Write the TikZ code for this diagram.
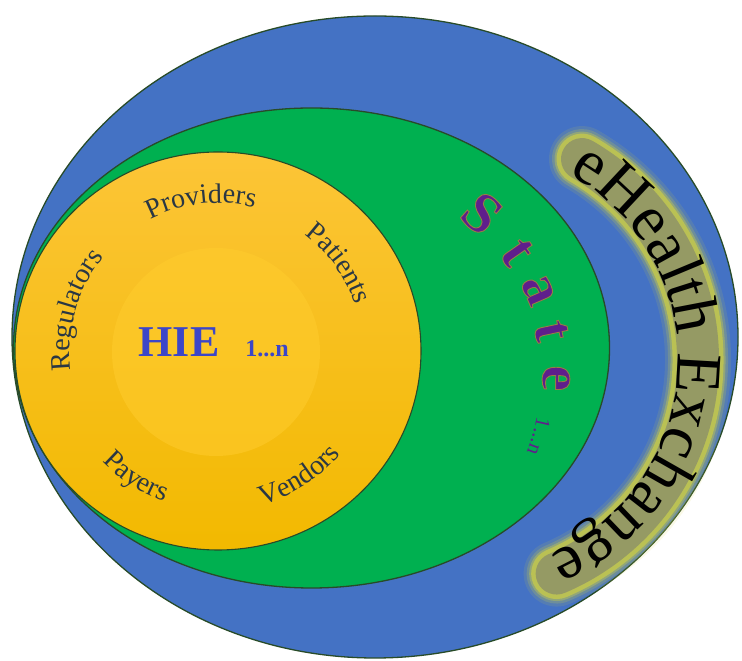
\documentclass[tikz,border=0pt]{standalone}
\usepackage{fontspec}
\setmainfont{Liberation Serif}
\usetikzlibrary{decorations.text,calc}
\definecolor{ringblue}{RGB}{68,114,196}
\definecolor{ringgreen}{RGB}{0,176,80}
\definecolor{edgegreen}{RGB}{40,75,40}
\definecolor{ytop}{RGB}{252,197,55}
\definecolor{ybot}{RGB}{242,185,0}
\definecolor{yinner}{RGB}{255,204,45}
\definecolor{labelgray}{RGB}{42,55,68}
\definecolor{hieblue}{RGB}{60,70,200}
\definecolor{statepurple}{RGB}{95,30,140}
\definecolor{glowyellow}{RGB}{214,212,60}
\definecolor{glowolive}{RGB}{146,150,102}

\newcommand\arclabel[7]{%
  \path[decorate,decoration={text along path,text align=center,text color=#6,
    text={|\fontsize{#5}{#5}\selectfont|#7}}] (#1) ++(#3:#2) arc[start angle=#3,end angle=#4,radius=#2];}

% outlined glyphs (fill + stroke) via text render mode
\newcommand\outlined[1]{\special{pdf:literal direct 0.59 0.49 0.27 RG 0.9 w 2 Tr}#1\special{pdf:literal direct 0 Tr}}

\newcommand\stateletter[3]{%
  \node[statefill,rotate=#2-90] (#1) at ($(sc)+(#2:218)$) {\outlined{#3}};}

\tikzset{
  ring/.style={draw=edgegreen,line width=1.3pt},
  statefill/.style={inner sep=0pt,text=statepurple,font=\bfseries\fontsize{58}{58}\selectfont},
  hietext/.style={inner sep=0pt,text=hieblue,font=\bfseries\fontsize{44}{44}\selectfont},
  hiesub/.style={inner sep=0pt,text=hieblue,font=\bfseries\fontsize{24}{24}\selectfont},
  glow/.style={line cap=round}
}

\begin{document}
\begin{tikzpicture}[x=1pt,y=1pt]
\useasboundingbox (0,0) rectangle (742,661);
\fill[white] (0,0) rectangle (742,661);

\coordinate (bc) at (375,324);
\coordinate (gc) at (311.5,313);
\coordinate (yc) at (218,310);
\coordinate (ic) at (216,309);
\coordinate (sc) at (338,284);
\coordinate (eh) at (466,301);

% rings
\fill[ringblue] (bc) ellipse [x radius=363,y radius=321];
\draw[ring] (bc) ellipse [x radius=363,y radius=321];
\fill[ringgreen] (gc) ellipse [x radius=298,y radius=240];
\draw[ring] (gc) ellipse [x radius=298,y radius=240];
\fill[top color=ytop,bottom color=ybot] (yc) ellipse [x radius=203,y radius=199];
\draw[ring,line width=1.1pt] (yc) ellipse [x radius=203,y radius=199];
\fill[yinner,opacity=0.55] (ic) circle [radius=104];

% soft glow behind eHealth Exchange
\foreach \w/\o in {66/0.12,60/0.2,55/0.35,51/0.6}{
  \draw[glow,glowyellow,line width=\w,opacity=\o] (eh) ++(60:232) arc[start angle=60,end angle=-67,radius=232];}
\draw[glow,glowolive,line width=42,opacity=0.9] (eh) ++(60:232) arc[start angle=60,end angle=-67,radius=232];

\arclabel{eh}{212}{87}{-93}{65}{black}{eHealth Exchange}

% HIE ring labels
\arclabel{yc}{148}{200}{128}{28}{labelgray}{Regulators}
\arclabel{yc}{148}{131}{62}{28}{labelgray}{Providers}
\arclabel{yc}{145}{72}{0}{28}{labelgray}{Patients}
\arclabel{yc}{160}{205}{269}{28}{labelgray}{Payers}
\arclabel{yc}{160}{270}{336}{28}{labelgray}{Vendors}

\node[hietext,anchor=base] (hie) at (179,304) {HIE};
\node[hiesub,anchor=base] (hien) at (267,304) {1...n};

% State letters
\stateletter{s1}{48.7}{S}
\stateletter{s2}{34.9}{t}
\stateletter{s3}{23.5}{a}
\stateletter{s4}{12.2}{t}
\stateletter{s5}{-0.3}{e}
\arclabel{sc}{203}{5}{-38}{21}{statepurple}{1...n}
\end{tikzpicture}
\end{document}
